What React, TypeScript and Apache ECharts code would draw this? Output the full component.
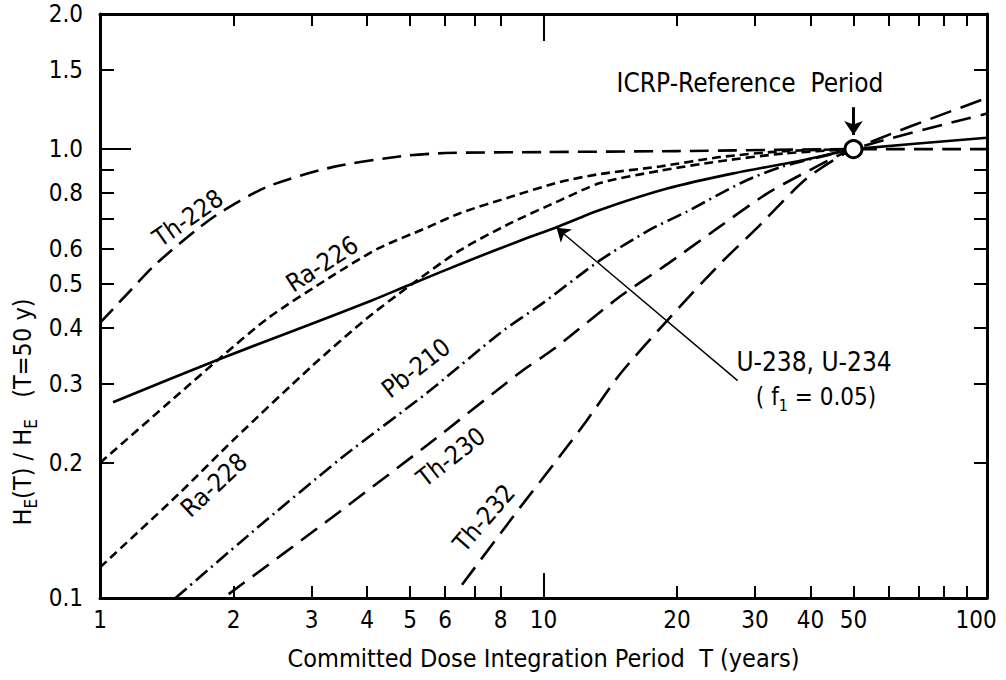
import React, { useEffect, useRef } from "react";
import * as echarts from "echarts";

const FONT = "'DejaVu Sans Condensed', 'DejaVu Sans', 'Liberation Sans', sans-serif";

// ---- axis ticks & labels ----
const xLabelValues = [1, 2, 3, 4, 5, 6, 8, 10, 20, 30, 40, 50, 100];
const xMinorTicks = [2, 3, 4, 5, 6, 7, 8, 20, 30, 40, 50, 60, 70, 80, 90];
const xMajorTicks = [10];
const yLabelValues = [0.1, 0.2, 0.3, 0.4, 0.5, 0.6, 0.8, 1.0, 1.5, 2.0];
const yMinorTicks = [0.2, 0.3, 0.4, 0.5, 0.6, 0.7, 0.8, 0.9, 1.5];
const yMajorTicks = [1.0];
const yRightTicks = [0.2, 0.3, 0.4, 0.5, 0.6, 0.7, 0.8, 0.9, 1.0, 1.5];
const xRange = [1, 100];
const yRange = [0.1, 2.0];

// ---- curves: [T (years), H_E(T)/H_E(50 y)] ----
const th228 = [[1, 0.41], [1.15, 0.475], [1.34, 0.556], [1.8, 0.705], [2.38, 0.824], [3.36, 0.913], [4.8, 0.965], [6, 0.98], [10, 0.985], [20, 0.99], [50, 1.0], [100, 1.0]];
const ra226 = [[1, 0.2], [1.5, 0.284], [1.85, 0.34], [2.39, 0.42], [3.27, 0.515], [4.23, 0.6], [5.49, 0.67], [6.48, 0.72], [8.4, 0.782], [10.9, 0.845], [13.4, 0.88], [18.3, 0.915], [25, 0.96], [35, 0.99], [50, 1.0]];
const ra228 = [[1, 0.117], [1.5, 0.17], [2, 0.225], [3, 0.328], [4, 0.42], [4.95, 0.493], [6.48, 0.595], [8.4, 0.683], [10.9, 0.769], [13.4, 0.84], [18.3, 0.895], [25, 0.94], [35, 0.978], [50, 1.0]];
const u238 = [[1.07, 0.273], [1.85, 0.34], [2.75, 0.395], [4.1, 0.46], [4.95, 0.497], [6.8, 0.565], [8.85, 0.625], [10.7, 0.67], [13.4, 0.732], [19, 0.817], [26.8, 0.883], [37.9, 0.942], [46.6, 0.986], [50, 1.0], [100, 1.06]];
const pb210 = [[1.48, 0.1], [2.2, 0.14], [3.5, 0.205], [5.5, 0.288], [8, 0.39], [10, 0.455], [13.4, 0.565], [17.3, 0.66], [21, 0.725], [28.2, 0.845], [34.6, 0.915], [50, 1.0]];
const th230 = [[1.95, 0.102], [3.3, 0.15], [5.5, 0.22], [8.85, 0.318], [10.6, 0.36], [14.9, 0.47], [19.3, 0.56], [24.6, 0.665], [31.9, 0.796], [39.2, 0.89], [50, 1.0], [100, 1.2]];
const th232 = [[6.55, 0.107], [8.85, 0.159], [10.6, 0.2], [12.5, 0.248], [14.9, 0.316], [19.3, 0.422], [25, 0.555], [30.2, 0.665], [39.2, 0.86], [50, 1.0], [100, 1.3]];

// reference point and annotation anchors (data coordinates)
const referencePoint = [[50, 1.0]];
const icrpArrow = [[50, 1.24], [50, 1.075]];
const u238Leader = [[27.4, 0.305], [10.7, 0.668]];

const lg = Math.log10;
const toLog = (pts: number[][]) => pts.map(([t, h]) => [lg(t), lg(h)]);
const nearest = (arr: number[], v: number) =>
  arr.reduce((b, a) => (Math.abs(lg(a) - v) < Math.abs(lg(b) - v) ? a : b), arr[0]);

const BLACK = "#000";

function xAxisDef(position: string, ticks: number[], len: number, extra: any = {}) {
  return {
    type: "value",
    gridIndex: 0,
    position,
    min: lg(xRange[0]),
    max: lg(xRange[1]),
    splitLine: { show: false },
    axisLine: { show: false, onZero: false },
    axisLabel: { show: false },
    axisTick: {
      show: true,
      inside: true,
      length: len,
      lineStyle: { color: BLACK, width: 2 },
      customValues: ticks.map(lg),
    },
    ...extra,
  };
}

function yAxisDef(position: string, ticks: number[], len: number, extra: any = {}) {
  return {
    type: "value",
    gridIndex: 0,
    position,
    min: lg(yRange[0]),
    max: lg(yRange[1]),
    splitLine: { show: false },
    axisLine: { show: false, onZero: false },
    axisLabel: { show: false },
    axisTick: {
      show: true,
      inside: true,
      length: len,
      lineStyle: { color: BLACK, width: 2 },
      customValues: ticks.map(lg),
    },
    ...extra,
  };
}

const frameLine = { show: true, onZero: false, lineStyle: { color: BLACK, width: 3 } };

function lineSeries(name: string, pts: number[][], dash: any, extra: any = {}) {
  return {
    type: "line",
    name,
    xAxisIndex: 0,
    yAxisIndex: 0,
    data: toLog(pts),
    showSymbol: false,
    symbol: "none",
    smooth: 0.25,
    itemStyle: { color: BLACK },
    lineStyle: { color: BLACK, width: 2.6, type: dash },
    z: 3,
    ...extra,
  };
}

function label(text: string, x: number, y: number, deg: number, size = 25) {
  return {
    type: "text",
    x,
    y,
    rotation: (deg * Math.PI) / 180,
    z: 10,
    style: {
      text,
      fontSize: size,
      fontFamily: FONT,
      fill: BLACK,
      align: "center",
      verticalAlign: "middle",
    },
  };
}

function arrowMarkLine(pts: number[][], width: number, size: number) {
  const l = toLog(pts);
  return {
    silent: true,
    symbol: ["none", "arrow"],
    symbolSize: size,
    label: { show: false },
    itemStyle: { color: BLACK },
    lineStyle: { color: BLACK, width, type: "solid" },
    emphasis: { disabled: true },
    data: [[{ coord: l[0] }, { coord: l[1] }]],
  };
}

export default function App() {
  const ref = useRef<HTMLDivElement>(null);

  useEffect(() => {
    document.body.style.margin = "0";
    if (!ref.current) return;
    const chart = echarts.init(ref.current, null, { renderer: "svg" });

    const main = { fontSize: 25, fontFamily: FONT, color: BLACK, lineHeight: 34, verticalAlign: "middle" };
    const sub = { fontSize: 17, fontFamily: FONT, color: BLACK, verticalAlign: "bottom" };
    const main2 = { fontSize: 24, fontFamily: FONT, color: BLACK, lineHeight: 32, verticalAlign: "middle" };
    const sub2 = { fontSize: 16, fontFamily: FONT, color: BLACK, verticalAlign: "bottom" };
    const lastX = xLabelValues[xLabelValues.length - 1];

    chart.setOption({
      animation: false,
      backgroundColor: "#fff",
      grid: { left: 100, right: 19, top: 14, bottom: 82, containLabel: false, outerBoundsMode: "none" },
      xAxis: [
        xAxisDef("bottom", xMinorTicks, 12, {
          axisLine: frameLine,
          axisLabel: {
            show: true,
            customValues: xLabelValues.map(lg),
            formatter: (v: number) => {
              const n = nearest(xLabelValues, v);
              return n === lastX ? `{r|${n}}` : String(n);
            },
            rich: { r: { fontSize: 24, fontFamily: FONT, color: BLACK, padding: [0, 22, 0, 0] } },
            fontSize: 24,
            fontFamily: FONT,
            color: BLACK,
            margin: 10,
          },
          name: "Committed Dose Integration Period  T (years)",
          nameLocation: "middle",
          nameGap: 48,
          nameTextStyle: { fontSize: 25, fontFamily: FONT, color: BLACK },
        }),
        xAxisDef("bottom", xMajorTicks, 25),
        xAxisDef("top", xMinorTicks, 12, { axisLine: frameLine }),
        xAxisDef("top", xMajorTicks, 27),
      ],
      yAxis: [
        yAxisDef("left", yMinorTicks, 14, {
          axisLine: frameLine,
          axisLabel: {
            show: true,
            customValues: yLabelValues.map(lg),
            formatter: (v: number) => nearest(yLabelValues, v).toFixed(1),
            fontSize: 24,
            fontFamily: FONT,
            color: BLACK,
            margin: 17,
          },
        }),
        yAxisDef("left", yMajorTicks, 31),
        yAxisDef("right", yRightTicks, 13, { axisLine: frameLine }),
      ],
      series: [
        lineSeries("Th-228", th228, [19, 9]),
        lineSeries("Ra-226", ra226, [9, 5]),
        lineSeries("Ra-228", ra228, [9, 5]),
        lineSeries("U-238, U-234", u238, "solid", {
          markLine: arrowMarkLine(u238Leader, 1.4, 13),
        }),
        lineSeries("Pb-210", pb210, [15, 5, 2, 5]),
        lineSeries("Th-230", th230, [20, 10]),
        lineSeries("Th-232", th232, [22, 10]),
        {
          type: "scatter",
          name: "ICRP-Reference Period",
          xAxisIndex: 0,
          yAxisIndex: 0,
          data: toLog(referencePoint),
          symbol: "circle",
          symbolSize: 17,
          itemStyle: { color: "#ffffff", borderColor: BLACK, borderWidth: 3, opacity: 1 },
          emphasis: { disabled: true },
          z: 6,
          markLine: arrowMarkLine(icrpArrow, 3, 14),
        },
      ],
      graphic: [
        label("Th-228", 188, 218, 35),
        label("Ra-226", 322, 264, 33),
        label("Ra-228", 214, 485, 43),
        label("Pb-210", 416, 368, 38),
        label("Th-230", 451, 457, 38),
        label("Th-232", 484, 518, 49),
        label("ICRP-Reference  Period", 750, 83, 0, 26),
        label("U-238, U-234", 814, 362, 0, 26),
        {
          type: "text",
          x: 816,
          y: 397,
          z: 10,
          style: {
            text: "{a|( f}{s|1}{a| = 0.05)}",
            rich: { a: main2, s: sub2 },
            fontSize: 24,
            fontFamily: FONT,
            fill: BLACK,
            align: "center",
            verticalAlign: "middle",
          },
        },
        {
          type: "text",
          x: 22,
          y: 412,
          rotation: Math.PI / 2,
          z: 10,
          style: {
            text: "{a|H}{s|E}{a|(T) / H}{s|E}{a|   (T=50 y)}",
            rich: { a: main, s: sub },
            fontSize: 25,
            fontFamily: FONT,
            fill: BLACK,
            align: "center",
            verticalAlign: "middle",
          },
        },
      ],
    });

    return () => chart.dispose();
  }, []);

  return <div ref={ref} style={{ width: 1006, height: 680 }} />;
}
